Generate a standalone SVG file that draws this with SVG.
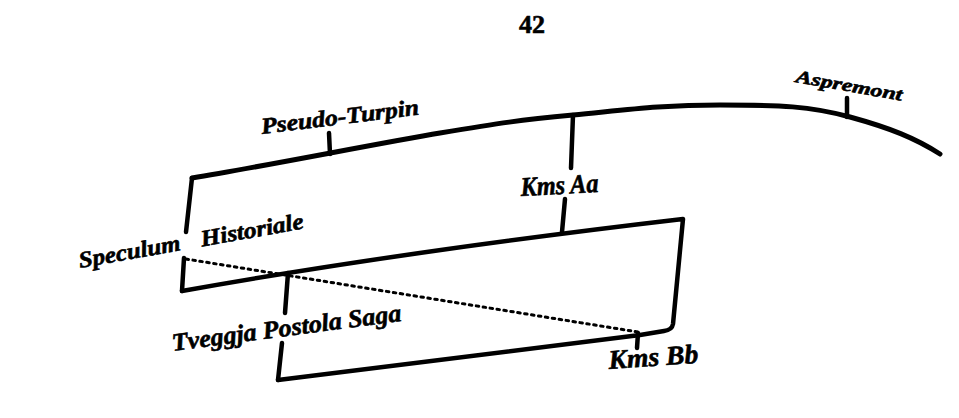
<svg xmlns="http://www.w3.org/2000/svg" width="959" height="418" viewBox="0 0 959 418">
<style>
.ln{fill:none;stroke:#000;stroke-width:4.5;stroke-linecap:round;stroke-linejoin:round}
.dot{fill:none;stroke:#000;stroke-width:3;stroke-dasharray:2.5 4.5;stroke-linecap:round}
.lb{font-family:"Liberation Serif","DejaVu Serif",serif;font-style:italic;font-weight:bold;fill:#000;stroke:#000;stroke-width:0.6}
.pg{font-family:"Liberation Serif","DejaVu Serif",serif;font-weight:bold;fill:#000;stroke:#000;stroke-width:0.6}
</style>
<rect width="959" height="418" fill="#fff"/>
<text id="page" class="pg" x="519" y="33" font-size="26">42</text>
<g id="connectors">
<path class="ln" style="stroke-width:5" d="M192,178 C260,167 380,143 440,133 S520,120 573,115 S660,105 720,105 S810,106 850,117 S915,138 940,154"/>
<path class="ln" d="M329,133 L330,154"/>
<path class="ln" d="M847,98 L847,117"/>
<path class="ln" d="M573,115 L571,168"/>
<path class="ln" d="M565,199 L562,232"/>
<path class="ln" d="M192,178 L186,232"/>
<path class="ln" d="M184,258 L182,291"/>
<path class="ln" d="M182,291 Q400,252 683,219 L673,324 Q672,330 664,331 L640,335 L278,380"/>
<path class="ln" d="M288,273 L285,313"/>
<path class="ln" d="M282,343 L278,380"/>
<path class="ln" d="M638,333 L637,348"/>
<path class="dot" d="M186,259 L638,332"/>
</g>
<g id="node-pseudo-turpin">
<text class="lb" font-size="23" transform="translate(262,134) rotate(-7)" textLength="159" lengthAdjust="spacingAndGlyphs">Pseudo-Turpin</text>
</g>
<g id="node-aspremont">
<text class="lb" font-size="18" transform="translate(795,82) rotate(10)" textLength="108" lengthAdjust="spacingAndGlyphs">Aspremont</text>
</g>
<g id="node-kms-aa">
<text class="lb" font-size="27" transform="translate(521,196) rotate(-3)" textLength="78" lengthAdjust="spacingAndGlyphs">Kms Aa</text>
</g>
<g id="node-speculum-historiale">
<text class="lb" font-size="23" transform="translate(80,268) rotate(-10)"><tspan x="0" y="0" textLength="103" lengthAdjust="spacingAndGlyphs">Speculum</tspan><tspan x="124" y="0" textLength="104" lengthAdjust="spacingAndGlyphs">Historiale</tspan></text>
</g>
<g id="node-tveggja-postola-saga">
<text class="lb" font-size="25" transform="translate(173,351) rotate(-7.5)" textLength="231" lengthAdjust="spacingAndGlyphs">Tveggja Postola Saga</text>
</g>
<g id="node-kms-bb">
<text class="lb" font-size="27" transform="translate(609,369) rotate(-4)" textLength="90" lengthAdjust="spacingAndGlyphs">Kms Bb</text>
</g>
</svg>
